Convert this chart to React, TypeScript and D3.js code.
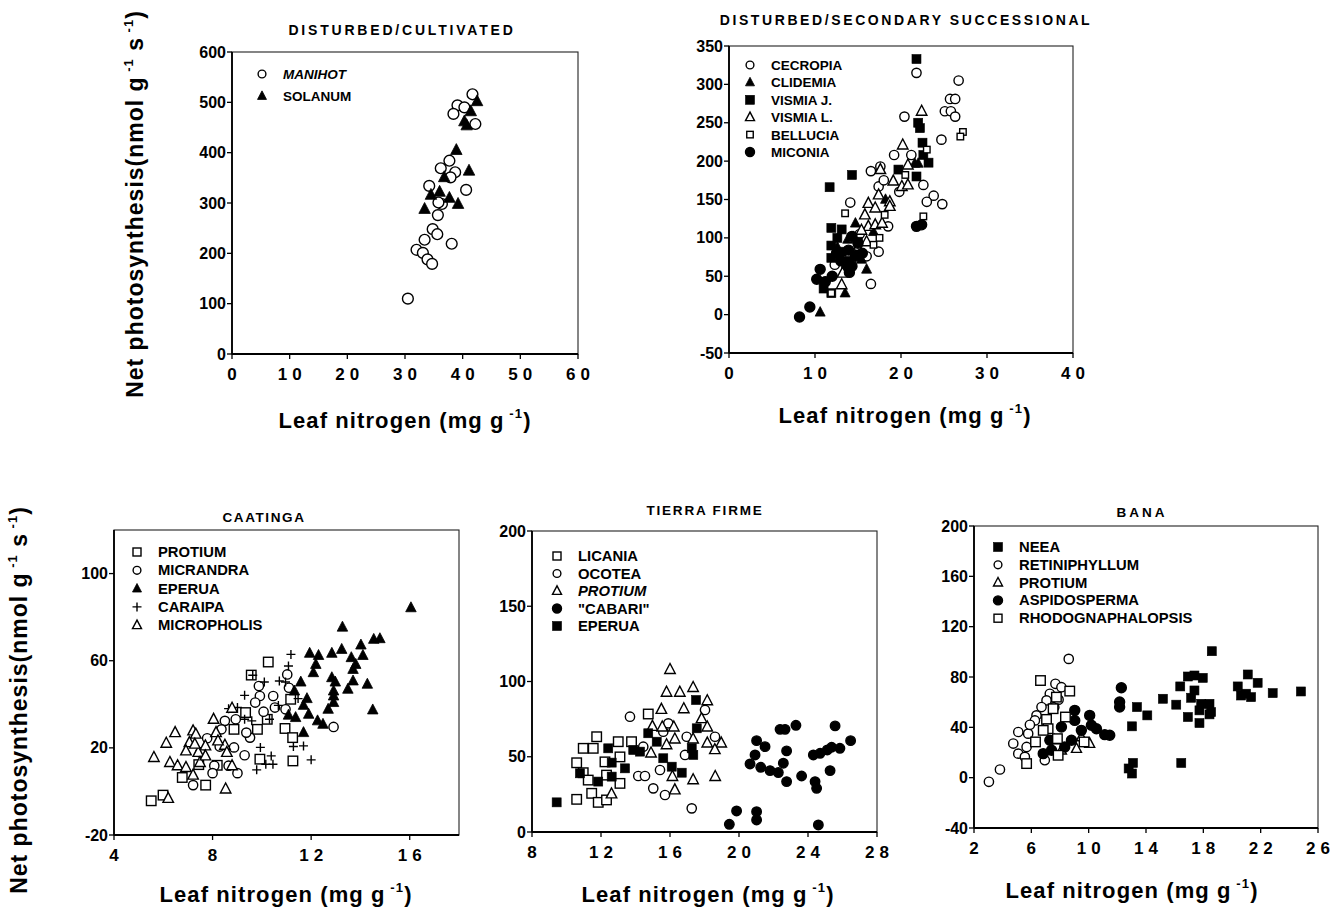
import React from 'react';
import * as d3 from 'd3';

type Pt = [number, number];

// ---------- Panel 1: DISTURBED/CULTIVATED ----------
const manihot: Pt[] = [[41.7,516],[39.1,494],[40.3,490],[38.4,477],[42.2,457],[37.7,384],[36.2,369],[38.7,361],[37.9,351],[40.6,326],[34.2,334],[36.4,298],[35.8,301],[35.7,276],[34.8,248],[35.6,238],[33.4,227],[38.1,219],[32.0,207],[33.1,201],[33.9,188],[34.7,179],[30.5,110]];
const solanum: Pt[] = [[42.5,502],[41.4,482],[40.3,462],[40.7,454],[38.9,405],[41.1,364],[36.8,351],[36.0,322],[34.5,316],[37.7,310],[39.2,298],[33.4,288]];

// ---------- Panel 2: DISTURBED/SECONDARY SUCCESSIONAL ----------
const cecropia: Pt[] = [[21.8,315],[26.7,305],[25.7,281],[26.3,281],[25.1,265],[25.8,265],[26.3,258],[20.4,258],[24.7,228],[19.2,208],[21.2,208],[16.5,187],[17.6,193],[17.4,167],[22.6,169],[23.8,155],[23.0,147],[24.8,144],[14.1,146],[18.5,115],[17.4,82],[16.0,76],[12.3,65],[16.5,40],[15.2,105],[19.8,160],[18.0,175]];
const clidemia: Pt[] = [[21.6,197],[22.0,197],[14.7,119],[16.0,59],[13.5,28],[10.6,3],[13.8,98],[12.6,88],[15.4,72],[16.8,108],[13.0,76],[18.2,150]];
const vismiaJ: Pt[] = [[21.8,333],[22.0,250],[22.2,243],[22.5,224],[22.6,208],[23.2,198],[19.7,189],[21.8,180],[14.3,182],[11.7,166],[11.9,113],[13.1,111],[11.9,90],[11.9,74],[13.1,82],[11.0,34],[11.9,28],[12.6,100],[14.0,70],[13.6,60],[15.0,95]];
const vismiaL: Pt[] = [[22.4,265],[20.2,221],[20.8,195],[17.6,189],[19.1,174],[20.1,167],[20.8,169],[18.7,147],[17.4,156],[16.2,145],[17.0,139],[18.7,141],[16.2,115],[17.0,117],[17.8,119],[13.2,54],[13.1,39],[15.4,110],[14.5,100],[16.0,95],[15.8,130]];
const bellucia: Pt[] = [[27.2,238],[26.9,232],[23.0,215],[20.5,182],[13.5,132],[22.6,128],[18.1,130],[16.8,91],[14.7,82],[11.9,28],[15.0,88],[17.5,100]];
const miconia: Pt[] = [[21.8,115],[22.4,117],[14.3,102],[15.0,93],[13.9,84],[14.7,76],[14.3,63],[10.6,59],[10.2,46],[11.2,43],[9.4,10],[8.2,-3],[12.0,50],[13.0,70],[15.5,80],[14.0,55],[12.5,80]];

// ---------- Panel 3: CAATINGA ----------
const protiumC: Pt[] = [[10.26,59.4],[9.57,53.4],[11.17,42.3],[9.34,36.2],[10.22,33.1],[9.82,28.5],[10.94,28.9],[11.25,24.7],[9.92,14.8],[11.26,14.0],[8.19,12.0],[6.77,6.4],[7.72,2.9],[5.51,-4.3],[5.99,-1.7],[7.44,12.3],[8.87,28.5]];
const micrandra: Pt[] = [[11.03,53.7],[11.1,47.6],[9.88,48.4],[9.92,43.8],[10.46,43.8],[9.73,40.8],[10.07,36.6],[10.96,37.7],[10.53,38.5],[8.94,33.1],[8.5,32.4],[9.52,24.7],[8.87,20.2],[9.3,16.6],[7.78,24.4],[8.29,20.6],[8.07,11.8],[8.65,11.8],[8.0,8.4],[9.01,8.4],[7.21,2.9],[12.91,29.6],[7.5,17.9],[8.36,28.5],[9.37,27.0]];
const eperuaC: Pt[] = [[16.05,84.3],[13.27,75.4],[14.79,70.1],[14.54,69.8],[14.02,67.2],[11.94,63.4],[12.3,62.4],[12.84,63.4],[13.24,65.2],[13.63,61.4],[14.1,62.4],[13.81,58.3],[12.19,58.3],[13.7,56.0],[12.09,54.5],[12.84,52.2],[12.98,50.2],[13.7,50.7],[11.58,50.2],[14.28,49.2],[13.49,46.9],[11.32,46.1],[12.91,46.1],[11.83,42.6],[11.69,39.5],[12.91,43.8],[12.91,40.8],[14.5,37.4],[12.69,37.7],[11.9,35.4],[11.08,35.0],[11.37,33.9],[12.26,32.4],[12.48,30.8],[11.69,27.0]];
const caraipa: Pt[] = [[11.18,62.9],[11.08,57.6],[9.63,53.3],[10.71,50.7],[10.96,50.2],[10.1,50.2],[9.3,44.1],[8.65,38.0],[9.01,38.5],[10.67,39.5],[9.3,33.1],[9.59,32.4],[11.47,42.6],[9.94,20.2],[10.38,16.3],[10.16,12.5],[10.45,12.5],[9.79,9.9],[11.28,20.6],[11.69,20.9],[12.0,14.5],[10.31,33.1]];
const micropholis: Pt[] = [[8.79,38.2],[8.04,33.1],[7.21,27.8],[6.48,27.0],[6.12,22.1],[7.32,26.3],[8.14,27.0],[8.5,21.2],[7.71,20.9],[7.06,22.4],[6.92,18.6],[7.42,17.9],[7.49,13.3],[5.62,15.6],[6.27,13.3],[6.58,11.8],[6.92,11.0],[7.21,7.5],[8.58,17.9],[8.79,11.8],[6.2,-3.2],[8.53,1.1],[8.22,23.2],[7.71,16.3],[7.28,21.7]];

// ---------- Panel 4: TIERRA FIRME ----------
const licania: Pt[] = [[11.75,63.3],[10.97,55.6],[11.55,55.6],[13.0,60.0],[13.77,60.0],[14.74,78.4],[10.59,46.0],[10.97,39.4],[12.23,46.6],[13.1,49.9],[12.32,37.8],[13.1,32.3],[10.59,21.7],[11.46,25.7],[11.84,19.7],[12.32,21.3],[11.26,34.5]];
const ocotea: Pt[] = [[13.68,76.6],[15.9,72.2],[18.03,81.1],[18.61,63.3],[16.97,63.3],[15.42,41.2],[14.16,37.2],[14.55,37.2],[16.87,51.2],[15.03,29.0],[15.71,24.6],[17.26,15.7],[15.61,66.6],[14.45,56.7]];
const protiumT: Pt[] = [[16.0,108],[15.8,92.9],[16.57,92.9],[17.34,96],[18.16,87.2],[15.5,81.5],[16.8,81.9],[17.83,75.3],[14.98,70.2],[15.55,69.8],[16.22,69.8],[18.16,69.8],[16.28,61.8],[18.16,59.1],[18.97,59.1],[15.8,58.0],[18.6,54.7],[17.34,61.8],[16.14,36.9],[17.34,34.7],[18.62,36.9],[16.28,28.0],[12.61,25.3],[14.9,52.5]];
const cabari: Pt[] = [[21.02,60.7],[21.51,56.7],[20.93,51.2],[20.64,45.2],[21.26,43.0],[21.8,40.8],[22.28,39.5],[22.38,68.2],[22.67,68.2],[23.3,70.9],[22.76,53.9],[22.57,45.7],[22.76,33.5],[23.63,37.2],[24.41,33.5],[24.5,29.0],[24.31,51.2],[24.7,52.3],[25.28,40.8],[25.57,70.5],[25.85,55.6],[25.12,54.5],[25.37,56.3],[26.47,60.7],[19.86,14.0],[19.44,5.1],[21.02,13.5],[21.02,8.0],[24.6,4.7]];
const eperuaT: Pt[] = [[9.43,19.7],[17.51,87.7],[14.74,65.6],[17.55,68.9],[12.42,55.6],[15.23,60.0],[13.87,54.5],[14.26,53.4],[17.26,55.6],[17.35,51.2],[12.62,46.1],[13.39,42.3],[10.78,39.0],[11.84,33.5],[12.62,36.8],[15.61,49.0],[16.1,43.4],[16.68,39.4]];

// ---------- Panel 5: BANA ----------
const neea: Pt[] = [[18.59,100.5],[16.92,80.4],[17.38,81.2],[17.96,79.3],[21.1,82.0],[21.79,75.4],[20.4,72.5],[20.63,65.3],[21.33,64.0],[20.98,66.7],[22.84,67.2],[24.81,68.5],[16.39,72.5],[17.38,69.3],[17.15,63.5],[15.18,62.7],[16.11,58.0],[17.85,58.7],[18.43,58.7],[18.54,52.1],[17.73,53.5],[18.43,50.3],[16.92,48.2],[17.73,43.4],[13.37,56.1],[14.09,49.5],[13.02,40.8],[13.09,11.7],[12.79,7.3],[13.02,3.3],[16.46,11.7]];
const retiniphyllum: Pt[] = [[8.61,94.4],[7.68,74.6],[8.1,71.9],[7.29,66.7],[7.06,61.4],[6.71,56.1],[6.36,49.5],[6.25,45.5],[5.09,36.3],[5.78,35.0],[4.74,27.1],[5.67,24.4],[5.09,19.1],[5.55,16.5],[6.94,13.9],[3.81,6.5],[3.04,-3.3],[7.6,56.0],[7.9,62.0],[5.9,42.0]];
const protiumB: Pt[] = [[10.07,27.1],[9.15,23.1],[9.49,32.3],[8.1,21.8],[7.6,30.0]];
const aspidosperma: Pt[] = [[12.28,71.4],[12.16,60.1],[12.16,56.1],[9.03,53.5],[10.07,49.5],[10.19,41.6],[9.03,45.5],[11.12,34.2],[11.47,33.7],[8.1,40.3],[7.29,29.7],[6.83,19.1],[7.41,21.8],[8.8,29.7],[9.49,37.6],[8.33,24.4],[10.54,38.9]];
const rhodognaphalopsis: Pt[] = [[6.64,77.2],[8.68,68.8],[7.75,64.0],[7.52,54.8],[8.38,48.2],[7.06,46.3],[7.17,38.9],[7.82,31.0],[6.29,28.4],[5.67,11.2],[7.87,17.8],[9.68,28.4],[6.83,37.6]];

// ---------- ticks ----------
const p1XTicks = [0, 10, 20, 30, 40, 50, 60];
const p1YTicks = [0, 100, 200, 300, 400, 500, 600];
const p2XTicks = [0, 10, 20, 30, 40];
const p2YTicks = [-50, 0, 50, 100, 150, 200, 250, 300, 350];
const p3XTicks = [4, 8, 12, 16];
const p3YTicks = [-20, 20, 60, 100];
const p4XTicks = [8, 12, 16, 20, 24, 28];
const p4YTicks = [0, 50, 100, 150, 200];
const p5XTicks = [2, 6, 10, 14, 18, 22, 26];
const p5YTicks = [-40, 0, 40, 80, 120, 160, 200];

type Sym = 'oc' | 'fc' | 'ot' | 'ft' | 'os' | 'fs' | 'plus';
interface Series { name: string; sym: Sym; data: Pt[]; size: number; italic?: boolean }
interface Panel {
  title: string; titleX: number; titleY: number; titleSize: number; titleSpacing: number;
  l: number; r: number; t: number; b: number;
  xd: [number, number]; yd: [number, number];
  xTicks: number[]; yTicks: number[];
  series: Series[];
  legX: number; legY: number; legDy: number; legSize: number;
  xlabX: number; xlabY: number;
}

const FONT = "'Liberation Sans Narrow','Liberation Sans',Arial,Helvetica,sans-serif";
const FONT2 = "'Liberation Sans',Arial,Helvetica,sans-serif";

const panels: Panel[] = [
  {
    title: 'DISTURBED/CULTIVATED', titleX: 402, titleY: 35, titleSize: 14, titleSpacing: 2.8,
    l: 232, r: 578, t: 52, b: 354, xd: [0, 60], yd: [0, 600],
    xTicks: p1XTicks, yTicks: p1YTicks,
    series: [
      { name: 'MANIHOT', sym: 'oc', data: manihot, size: 12, italic: true },
      { name: 'SOLANUM', sym: 'ft', data: solanum, size: 11.5 },
    ],
    legX: 262, legY: 74, legDy: 22, legSize: 13.5, xlabX: 405, xlabY: 428,
  },
  {
    title: 'DISTURBED/SECONDARY SUCCESSIONAL', titleX: 906, titleY: 25, titleSize: 14, titleSpacing: 2.6,
    l: 729, r: 1073, t: 46, b: 353, xd: [0, 40], yd: [-50, 350],
    xTicks: p2XTicks, yTicks: p2YTicks,
    series: [
      { name: 'CECROPIA', sym: 'oc', data: cecropia, size: 10.5 },
      { name: 'CLIDEMIA', sym: 'ft', data: clidemia, size: 10 },
      { name: 'VISMIA J.', sym: 'fs', data: vismiaJ, size: 9 },
      { name: 'VISMIA L.', sym: 'ot', data: vismiaL, size: 10.5 },
      { name: 'BELLUCIA', sym: 'os', data: bellucia, size: 7.5 },
      { name: 'MICONIA', sym: 'fc', data: miconia, size: 10 },
    ],
    legX: 750, legY: 65, legDy: 17.4, legSize: 13.5, xlabX: 905, xlabY: 423,
  },
  {
    title: 'CAATINGA', titleX: 264, titleY: 522, titleSize: 13.5, titleSpacing: 1.6,
    l: 114, r: 459, t: 530, b: 835, xd: [4, 18], yd: [-20, 120],
    xTicks: p3XTicks, yTicks: p3YTicks,
    series: [
      { name: 'PROTIUM', sym: 'os', data: protiumC, size: 10.5 },
      { name: 'MICRANDRA', sym: 'oc', data: micrandra, size: 10.5 },
      { name: 'EPERUA', sym: 'ft', data: eperuaC, size: 10.5 },
      { name: 'CARAIPA', sym: 'plus', data: caraipa, size: 9 },
      { name: 'MICROPHOLIS', sym: 'ot', data: micropholis, size: 10.5 },
    ],
    legX: 137, legY: 552, legDy: 18.3, legSize: 14.8, xlabX: 286, xlabY: 902,
  },
  {
    title: 'TIERRA FIRME', titleX: 705, titleY: 515, titleSize: 13.5, titleSpacing: 1.8,
    l: 532, r: 877, t: 531, b: 832, xd: [8, 28], yd: [0, 200],
    xTicks: p4XTicks, yTicks: p4YTicks,
    series: [
      { name: 'LICANIA', sym: 'os', data: licania, size: 10.5 },
      { name: 'OCOTEA', sym: 'oc', data: ocotea, size: 10.5 },
      { name: 'PROTIUM', sym: 'ot', data: protiumT, size: 10.5, italic: true },
      { name: '"CABARI"', sym: 'fc', data: cabari, size: 9.5 },
      { name: 'EPERUA', sym: 'fs', data: eperuaT, size: 9 },
    ],
    legX: 557, legY: 556, legDy: 17.5, legSize: 14.8, xlabX: 708, xlabY: 902,
  },
  {
    title: 'BANA', titleX: 1142, titleY: 517, titleSize: 13.5, titleSpacing: 3,
    l: 974, r: 1318, t: 526, b: 828, xd: [2, 26], yd: [-40, 200],
    xTicks: p5XTicks, yTicks: p5YTicks,
    series: [
      { name: 'NEEA', sym: 'fs', data: neea, size: 9 },
      { name: 'RETINIPHYLLUM', sym: 'oc', data: retiniphyllum, size: 10.5 },
      { name: 'PROTIUM', sym: 'ot', data: protiumB, size: 10 },
      { name: 'ASPIDOSPERMA', sym: 'fc', data: aspidosperma, size: 10 },
      { name: 'RHODOGNAPHALOPSIS', sym: 'os', data: rhodognaphalopsis, size: 10.5 },
    ],
    legX: 998, legY: 547, legDy: 17.8, legSize: 14.8, xlabX: 1132, xlabY: 898,
  },
];

function Marker({ sym, x, y, s }: { sym: Sym; x: number; y: number; s: number }) {
  const sw = 1.4;
  const filled = sym === 'fc' || sym === 'ft' || sym === 'fs';
  const fill = filled ? '#000' : '#fff';
  if (sym === 'oc' || sym === 'fc') {
    return <circle cx={x} cy={y} r={s / 2 - (filled ? 0 : 0.6)} fill={fill} stroke="#000" strokeWidth={sw} />;
  }
  if (sym === 'ot' || sym === 'ft') {
    const h = s * 0.95;
    const pts = `${x},${y - h * 0.6} ${x - s / 2},${y + h * 0.4} ${x + s / 2},${y + h * 0.4}`;
    return <polygon points={pts} fill={fill} stroke="#000" strokeWidth={filled ? 0.8 : sw} strokeLinejoin="miter" />;
  }
  if (sym === 'os' || sym === 'fs') {
    const a = filled ? s : s - 1;
    return <rect x={x - a / 2} y={y - a / 2} width={a} height={a} fill={fill} stroke="#000" strokeWidth={filled ? 0.6 : sw} />;
  }
  const h = s / 2;
  return <path d={`M${x - h},${y}H${x + h}M${x},${y - h}V${y + h}`} stroke="#000" strokeWidth={1.4} fill="none" />;
}

function PanelView({ p }: { p: Panel }) {
  const x = d3.scaleLinear().domain(p.xd).range([p.l, p.r]);
  const y = d3.scaleLinear().domain(p.yd).range([p.b, p.t]);
  return (
    <g>
      <text x={p.titleX} y={p.titleY} textAnchor="middle" fontFamily={FONT2} fontWeight="bold" fontSize={p.titleSize} letterSpacing={p.titleSpacing}>{p.title}</text>
      {/* frame */}
      <rect x={p.l} y={p.t} width={p.r - p.l} height={p.b - p.t} fill="none" stroke="#222" strokeWidth={1.1} />
      <line x1={p.l} x2={p.l} y1={p.t} y2={p.b} stroke="#000" strokeWidth={1.8} />
      <line x1={p.l} x2={p.r} y1={p.b} y2={p.b} stroke="#000" strokeWidth={1.8} />
      {p.yTicks.map(v => (
        <g key={'y' + v}>
          <line x1={p.l - 5} x2={p.l} y1={y(v)} y2={y(v)} stroke="#000" strokeWidth={1.3} />
          <text x={p.l - 6} y={y(v) + 5.5} textAnchor="end" fontFamily={FONT} fontWeight="bold" fontSize={16}>{v}</text>
        </g>
      ))}
      {p.xTicks.map(v => (
        <g key={'x' + v}>
          <line x1={x(v)} x2={x(v)} y1={p.b} y2={p.b + 5} stroke="#000" strokeWidth={1.3} />
          <text x={x(v) + (String(v).length > 1 ? 2.5 : 0)} y={p.b + 26} textAnchor="middle" fontFamily={FONT} fontWeight="bold" fontSize={17} letterSpacing={String(v).length > 1 ? 5 : 0}>{v}</text>
        </g>
      ))}
      {/* points */}
      {p.series.map((s, si) => (
        <g key={'s' + si}>
          {s.data.map((d, i) => <Marker key={i} sym={s.sym} x={x(d[0])} y={y(d[1])} s={s.size} />)}
        </g>
      ))}
      {/* legend */}
      {p.series.map((s, si) => (
        <g key={'l' + si}>
          <Marker sym={s.sym} x={p.legX} y={p.legY + si * p.legDy} s={Math.min(s.size, 9)} />
          <text x={p.legX + 21} y={p.legY + si * p.legDy + 5} fontFamily={FONT2} fontWeight="bold" fontSize={p.legSize} fontStyle={s.italic ? 'italic' : 'normal'}>{s.name}</text>
        </g>
      ))}
      {/* x label */}
      <text x={p.xlabX} y={p.xlabY} textAnchor="middle" fontFamily={FONT2} fontWeight="bold" fontSize={22} letterSpacing={1.1}>
        Leaf nitrogen (mg g<tspan dy={-10} fontSize={13}>{' -1'}</tspan><tspan dy={10}>)</tspan>
      </text>
    </g>
  );
}

function YLabel({ cx, cy }: { cx: number; cy: number }) {
  return (
    <text transform={`translate(${cx},${cy}) rotate(-90)`} textAnchor="middle" fontFamily={FONT2} fontWeight="bold" fontSize={23} letterSpacing={1}>
      Net photosynthesis(nmol g<tspan dy={-10} fontSize={13}>{' -1'}</tspan><tspan dy={10}>{' s'}</tspan><tspan dy={-10} fontSize={13}>{' -1'}</tspan><tspan dy={10}>)</tspan>
    </text>
  );
}

export default function App() {
  return (
    <svg width={1343} height={912} style={{ position: 'absolute', left: 0, top: 0, background: '#fff' }}>
      <rect x={0} y={0} width={1343} height={912} fill="#fff" />
      <YLabel cx={143} cy={204} />
      <YLabel cx={27} cy={700} />
      {panels.map((p, i) => <PanelView key={i} p={p} />)}
    </svg>
  );
}
